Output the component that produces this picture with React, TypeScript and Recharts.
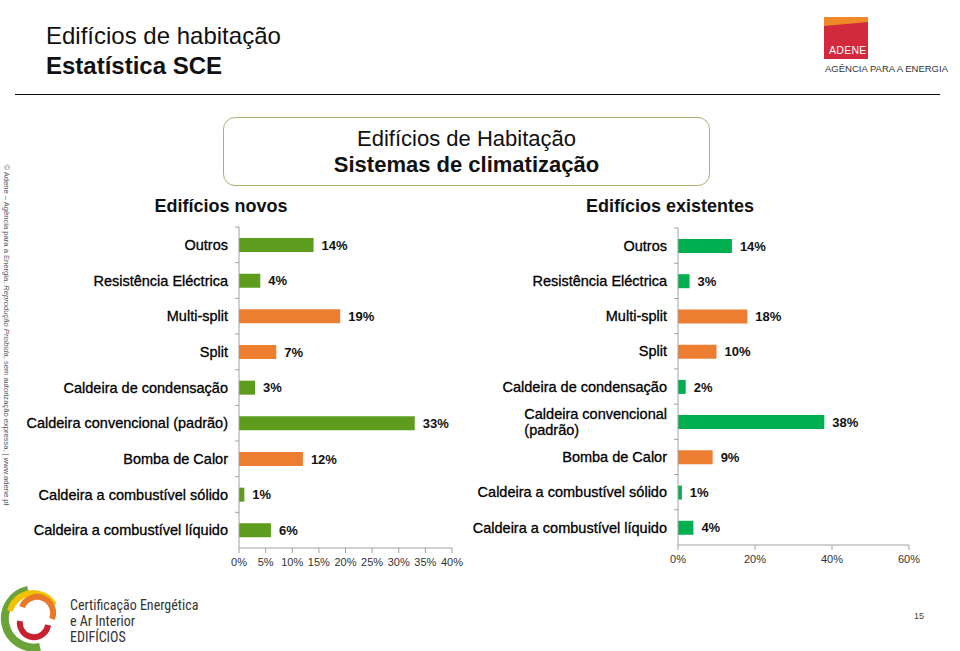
import React from 'react';
import { BarChart, Bar, XAxis, YAxis, Cell, LabelList } from 'recharts';

const categories = [
  'Outros',
  'Resistência Eléctrica',
  'Multi-split',
  'Split',
  'Caldeira de condensação',
  'Caldeira convencional (padrão)',
  'Bomba de Calor',
  'Caldeira a combustível sólido',
  'Caldeira a combustível líquido',
];
const novos = [14, 4, 19, 7, 3, 33, 12, 1, 6];
const existentes = [14, 3, 18, 10, 2, 38, 9, 1, 4];
const novosTicks = [0, 5, 10, 15, 20, 25, 30, 35, 40];
const existentesTicks = [0, 20, 40, 60];
const heatPumps = ['Multi-split', 'Split', 'Bomba de Calor'];
const wrapRight = ['Caldeira convencional (padrão)'];

const FONT = '"Liberation Sans", Arial, sans-serif';
const CHART_H = 360;

const dataNovos = categories.map((name, i) => ({ name, value: novos[i] }));
const dataExistentes = categories.map((name, i) => ({ name, value: existentes[i] }));

let ctx: CanvasRenderingContext2D | null = null;
const measure = (s: string, font: string) => {
  if (!ctx) ctx = document.createElement('canvas').getContext('2d');
  if (!ctx) return s.length * 7;
  ctx.font = font;
  return ctx.measureText(s).width;
};

// category label + the small Excel-style tick mark at the top edge of each band
const CategoryTick = (props: any) => {
  const { x, y, payload, wrap, band, gap } = props;
  const label: string = payload.value;
  const style = { fontFamily: FONT, fontSize: 14.5, fill: '#000', stroke: '#000', strokeWidth: 0.3 };
  const ax = x + gap;
  const mark = <line x1={ax - 4} x2={ax} y1={y - band / 2} y2={y - band / 2} stroke="#a0a0a0" />;
  if (wrap && wrap.includes(label)) {
    const i = label.lastIndexOf(' ');
    const first = label.slice(0, i);
    const second = label.slice(i + 1);
    const w = measure(first, `14.5px ${FONT}`);
    return (
      <g>
        {mark}
        <text x={x - w} y={y} textAnchor="start" style={style}>
          <tspan x={x - w} dy={-3}>{first}</tspan>
          <tspan x={x - w} dy={16}>{second}</tspan>
        </text>
      </g>
    );
  }
  return (
    <g>
      {mark}
      <text x={x} y={y} dy="0.355em" textAnchor="end" style={style}>
        {label}
      </text>
    </g>
  );
};

const pct = (v: any) => `${v}%`;

const Chart = ({ data, ticks, max, green, width, yWidth, margin, wrap }: any) => {
  const band = (CHART_H - margin.top - margin.bottom - 30) / data.length;
  return (
    <BarChart width={width} height={CHART_H} data={data} layout="vertical" margin={margin} barSize={14}>
      <XAxis
        type="number"
        domain={[0, max]}
        ticks={ticks}
        interval={0}
        tickFormatter={pct}
        stroke="#a0a0a0"
        tickSize={5}
        tickMargin={5}
        height={30}
        tick={{ fontFamily: FONT, fontSize: 11, fill: '#333' }}
      />
      <YAxis
        type="category"
        dataKey="name"
        width={yWidth}
        stroke="#a0a0a0"
        tickLine={false}
        tickSize={0}
        tickMargin={11}
        interval={0}
        tick={<CategoryTick wrap={wrap} band={band} gap={11} />}
      />
      <Bar dataKey="value" isAnimationActive={false}>
        {data.map((d: any) => (
          <Cell key={d.name} fill={heatPumps.includes(d.name) ? '#ed7d31' : green} />
        ))}
        <LabelList
          dataKey="value"
          position="right"
          offset={8}
          formatter={pct}
          style={{ fontFamily: FONT, fontSize: 13, fontWeight: 'bold', fill: '#111' }}
        />
      </Bar>
    </BarChart>
  );
};

const abs = (left: number, top: number, extra: any = {}) => ({ position: 'absolute' as const, left, top, ...extra });

export default function App() {
  return (
    <div style={{ position: 'absolute', left: 0, top: 0, width: 960, height: 651, overflow: 'hidden', background: '#fff', fontFamily: FONT, color: '#111' }}>
      {/* header */}
      <div style={abs(46, 22, { fontSize: 24, lineHeight: '28px' })}>Edifícios de habitação</div>
      <div style={abs(46, 52, { fontSize: 24, lineHeight: '28px', fontWeight: 'bold' })}>Estatística SCE</div>
      <div style={abs(15, 94, { width: 925, height: 0, borderTop: '1.5px solid #111' })} />

      {/* ADENE logo */}
      <svg style={abs(820, 12)} width={135} height={66}>
        <rect x={4} y={5} width={44} height={42} fill="#d2293c" />
        <polygon points="4,5 48,5 48,10 4,14" fill="#f0892a" />
        <text x={9} y={42} fontSize={10.5} fill="#fff" style={{ fontFamily: FONT, letterSpacing: 0.3 }}>ADENE</text>
        <text x={5} y={60} fontSize={9} fill="#333" textLength={123} lengthAdjust="spacingAndGlyphs" style={{ fontFamily: FONT }}>AGÊNCIA PARA A ENERGIA</text>
      </svg>

      {/* vertical copyright */}
      <div style={abs(-164, 330, { width: 340, fontSize: 7.6, color: '#555', transform: 'rotate(90deg)', transformOrigin: '50% 50%', whiteSpace: 'nowrap' })}>
        © Adene – Agência para a Energia. <i>Reprodução Proibida</i>, sem autorização expressa. | www.adene.pt
      </div>

      {/* central title box */}
      <div style={abs(223, 117, { width: 485, height: 67, border: '1.5px solid #a3b56c', borderRadius: 12, textAlign: 'center' })}>
        <div style={{ fontSize: 22, lineHeight: '26px', marginTop: 8 }}>Edifícios de Habitação</div>
        <div style={{ fontSize: 22, lineHeight: '26px', fontWeight: 'bold' }}>Sistemas de climatização</div>
      </div>

      <div style={abs(121, 196, { width: 200, textAlign: 'center', fontSize: 18, fontWeight: 'bold' })}>Edifícios novos</div>
      <div style={abs(570, 196, { width: 200, textAlign: 'center', fontSize: 18, fontWeight: 'bold' })}>Edifícios existentes</div>

      <div style={abs(0, 220)}>
        <Chart data={dataNovos} ticks={novosTicks} max={40} green="#5e9c1e" width={480} yWidth={239}
          margin={{ top: 7, right: 28, bottom: 2, left: 0 }} wrap={[]} />
      </div>
      <div style={abs(460, 220)}>
        <Chart data={dataExistentes} ticks={existentesTicks} max={60} green="#00b050" width={500} yWidth={218}
          margin={{ top: 8, right: 51, bottom: 5, left: 0 }} wrap={wrapRight} />
      </div>

      {/* footer logo */}
      <svg style={abs(0, 585)} width={70} height={66}>
        <path d="M 28 5 A 28 28 0 1 0 40 62" fill="none" stroke="#6aa339" strokeWidth={8} />
        <path d="M 10 26 A 24 24 0 0 1 54 20" fill="none" stroke="#f2c200" strokeWidth={6} />
        <path d="M 22 22 A 16 16 0 0 1 52 34" fill="none" stroke="#e8792b" strokeWidth={6} />
        <path d="M 20 36 A 14 14 0 0 0 48 40" fill="none" stroke="#c8202f" strokeWidth={6} />
      </svg>
      <div style={abs(70, 597, { fontSize: 14, lineHeight: '16px', color: '#333', fontFamily: '"Liberation Sans Narrow", "Roboto Condensed", sans-serif' })}>
        Certificação Energética<br />e Ar Interior<br />EDIFÍCIOS
      </div>
      <div style={abs(914, 611, { fontSize: 9, color: '#444' })}>15</div>
    </div>
  );
}
